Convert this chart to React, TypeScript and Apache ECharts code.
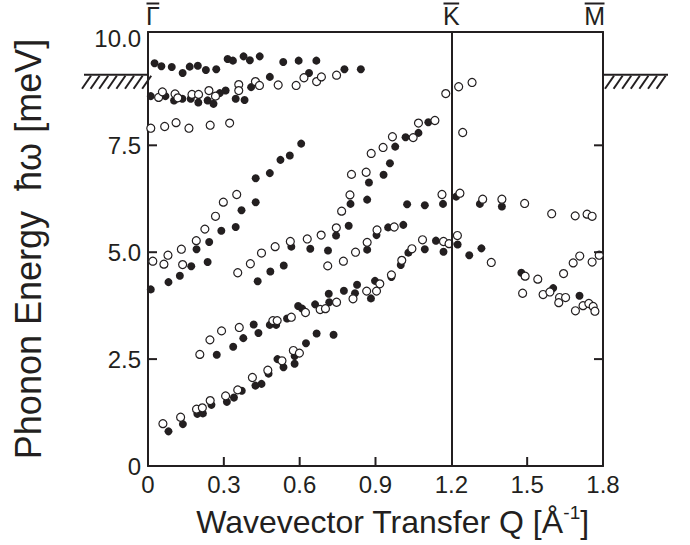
import { useEffect, useRef } from 'react';
import * as echarts from 'echarts';

// Axis ticks
const qTicks = [0, 0.3, 0.6, 0.9, 1.2, 1.5, 1.8];
const energyTicks = [0, 2.5, 5, 7.5, 10];

// High-symmetry points (top labels) and bulk band edge (hatched)
const symmetryLabels = ['Γ', 'K', 'M'];
const symmetryQ = [0, 1.2, 1.8];
const bulkEdgeEnergy = 9.15;

// Filled circles [Q (Å^-1), energy (meV)]
const filledUpper: number[][] = [
  [0.026, 9.42], [0.053, 9.35], [0.094, 9.33], [0.137, 9.19], [0.165, 9.34], [0.197, 9.36],
  [0.229, 9.26], [0.27, 9.28], [0.315, 9.52], [0.336, 9.48], [0.378, 9.58], [0.403, 9.49],
  [0.442, 9.58], [0.535, 9.45], [0.596, 9.48], [0.666, 9.48],
  [0.011, 8.65], [0.069, 8.65], [0.103, 8.55], [0.136, 8.59], [0.169, 8.59], [0.199, 8.5],
  [0.236, 8.55], [0.259, 8.47], [0.284, 8.72], [0.307, 8.78], [0.347, 8.59], [0.382, 8.56],
  [0.408, 8.86], [0.482, 9.1], [0.637, 9.19], [0.777, 9.28], [0.842, 9.28],
];
const filledMiddle: number[][] = [
  [0.606, 7.54], [0.561, 7.26], [0.524, 7.16], [0.482, 6.85], [0.426, 6.73], [0.426, 6.17],
  [0.37, 5.98], [0.347, 5.59], [0.29, 5.5], [0.242, 5.24], [0.192, 5.07], [0.171, 4.67],
  [0.236, 4.77], [0.126, 4.45], [0.081, 4.3], [0.011, 4.13],
  [0.434, 4.32], [0.484, 4.55], [0.537, 4.69], [0.567, 5.13], [0.642, 5.08], [0.712, 5.04],
  [0.744, 5.39], [0.715, 4.03],
  [0.978, 7.47], [0.957, 7.08], [0.932, 6.81], [0.874, 6.63], [0.801, 6.13], [0.867, 6.23],
  [1.019, 7.69], [1.07, 7.79], [1.109, 8.04],
  [1.025, 6.12], [1.095, 6.1], [1.167, 6.13], [1.219, 6.3], [1.313, 6.13], [1.4, 6.07],
  [0.794, 5.62], [0.904, 5.4], [0.95, 5.58], [1.01, 5.64], [0.867, 5.06], [1.03, 4.99],
  [1.095, 5.07], [1.139, 5.27], [1.169, 5.01], [1.225, 5.18], [1.271, 4.93], [1.319, 5.09],
  [1.0, 4.7], [0.963, 4.42], [0.898, 4.33], [0.827, 4.24], [0.775, 4.1], [0.819, 4.04],
  [0.882, 3.92], [1.477, 4.52], [1.603, 4.16], [1.707, 3.98],
];
const filledLower: number[][] = [
  [0.081, 0.81], [0.138, 0.98], [0.195, 1.22], [0.217, 1.23], [0.251, 1.43], [0.312, 1.5],
  [0.34, 1.6], [0.371, 1.76], [0.425, 1.88], [0.449, 1.92], [0.477, 2.16], [0.512, 2.5],
  [0.536, 2.31], [0.58, 2.39], [0.58, 2.57], [0.625, 2.87], [0.667, 3.1], [0.734, 3.07],
  [0.272, 2.6], [0.337, 2.79], [0.377, 2.99], [0.418, 3.31], [0.437, 3.11], [0.482, 3.3],
  [0.507, 3.3], [0.55, 3.45], [0.594, 3.74], [0.61, 3.68], [0.661, 3.78], [0.717, 3.83],
];

// Open circles [Q (Å^-1), energy (meV)]
const openUpper: number[][] = [
  [0.042, 8.62], [0.057, 8.75], [0.107, 8.7], [0.118, 8.61], [0.174, 8.69], [0.2, 8.69],
  [0.241, 8.78], [0.267, 8.65], [0.359, 8.92], [0.359, 8.78], [0.425, 8.99], [0.441, 8.9],
  [0.515, 8.91], [0.586, 8.9], [0.617, 9.08], [0.667, 8.99], [0.686, 9.1], [0.746, 9.14],
  [1.178, 8.71], [1.229, 8.87], [1.282, 8.97], [1.245, 7.8], [0.967, 7.7], [1.049, 7.68],
  [1.07, 8.02], [1.135, 8.08],
  [0.011, 7.9], [0.066, 7.94], [0.111, 8.03], [0.162, 7.9], [0.246, 7.97], [0.323, 8.02],
];
const openMiddle: number[][] = [
  [0.351, 6.35], [0.298, 6.17], [0.267, 5.84], [0.225, 5.54], [0.191, 5.27], [0.132, 5.07],
  [0.079, 4.93], [0.019, 4.79], [0.063, 4.72], [0.137, 4.71], [0.355, 4.52], [0.405, 4.73],
  [0.449, 4.98], [0.503, 5.13], [0.563, 5.25], [0.63, 5.31], [0.685, 5.4], [0.745, 5.57],
  [0.711, 4.68],
  [0.93, 7.45], [0.883, 7.31], [0.805, 6.82], [0.863, 6.87], [0.799, 6.34], [0.766, 5.96],
  [1.163, 6.35], [1.234, 6.38], [1.324, 6.24], [1.4, 6.24], [1.49, 6.14], [1.597, 5.9],
  [1.69, 5.85], [1.737, 5.89], [1.757, 5.84], [0.906, 5.52], [0.974, 5.59], [0.867, 5.23],
  [0.821, 5.0], [0.773, 4.79], [1.086, 5.29], [1.044, 5.08], [1.169, 5.25], [1.191, 5.2],
  [1.224, 5.39], [1.358, 4.76], [1.492, 4.44], [1.542, 4.37], [1.644, 4.5], [1.682, 4.75],
  [1.708, 4.91], [1.757, 4.77], [1.785, 4.93], [1.004, 4.81], [0.963, 4.47], [0.917, 4.26],
  [0.865, 4.09], [0.904, 4.09], [0.811, 3.91], [1.482, 4.04], [1.563, 4.01], [1.59, 4.07],
  [1.628, 3.94], [1.625, 3.82], [1.652, 3.94], [1.691, 3.63], [1.721, 3.75], [1.744, 3.8],
  [1.761, 3.73], [1.768, 3.62],
];
const openLower: number[][] = [
  [0.059, 0.99], [0.129, 1.14], [0.192, 1.33], [0.215, 1.36], [0.246, 1.53], [0.307, 1.64],
  [0.355, 1.78], [0.413, 2.07], [0.474, 2.24], [0.53, 2.46], [0.575, 2.7], [0.599, 2.64],
  [0.205, 2.61], [0.245, 2.95], [0.291, 3.16], [0.361, 3.24], [0.494, 3.4], [0.511, 3.4],
  [0.567, 3.48], [0.623, 3.59], [0.681, 3.66], [0.702, 3.68], [0.746, 3.83],
];

const INK = '#231f20';
const FONT = '"Liberation Sans", Arial, Helvetica, sans-serif';

const Q_MIN = 0;
const Q_MAX = 1.8;
const E_MIN = 0;
const E_MAX = 10.15;
const GRID = { left: 148, top: 32, width: 455, height: 434 };

export default function App() {
  const ref = useRef<HTMLDivElement>(null);

  useEffect(() => {
    if (!ref.current) return;
    const chart = echarts.init(ref.current, null, { renderer: 'svg' });

    const fmtQ = (v: number) => {
      const hit = qTicks.find((t) => Math.abs(t - v) < 1e-6);
      if (hit === undefined) return '';
      return hit === 0 ? '0' : hit.toFixed(1);
    };
    const fmtE = (v: number) => {
      const hit = energyTicks.find((t) => Math.abs(t - v) < 1e-6);
      if (hit === undefined) return '';
      return hit === 0 ? '0' : hit.toFixed(1);
    };

    // Inward frame ticks drawn as thin rectangle symbols placed on the frame
    const tickLen = 9;
    const tickW = 2;
    const bottomTicks = qTicks
      .filter((q) => q > Q_MIN && q < Q_MAX && q !== symmetryQ[1])
      .map((q) => [q, E_MIN]);
    const leftTicks = energyTicks.filter((e) => e > E_MIN && e < 10).map((e) => [Q_MIN, e]);
    const rightTicks = energyTicks.filter((e) => e > E_MIN && e < 10).map((e) => [Q_MAX, e]);

    const tickSeries = (data: number[][], size: number[], offset: number[], name: string) => ({
      type: 'scatter',
      name,
      data,
      symbol: 'rect',
      symbolSize: size,
      symbolOffset: offset,
      clip: false,
      silent: true,
      itemStyle: { color: INK, opacity: 1 },
      z: 6,
    });

    const frameLine = { show: true, onZero: false, lineStyle: { color: INK, width: 2 } };

    const yAxisBase = {
      type: 'value',
      min: E_MIN,
      max: E_MAX,
      interval: 2.5,
      splitLine: { show: false },
      splitArea: { show: false },
      axisLine: frameLine,
      axisTick: { show: false },
    };

    chart.setOption({
      animation: false,
      backgroundColor: '#ffffff',
      grid: { ...GRID, show: false },
      xAxis: [
        {
          type: 'value',
          position: 'bottom',
          min: Q_MIN,
          max: Q_MAX,
          interval: 0.3,
          splitLine: { show: false },
          splitArea: { show: false },
          axisLine: frameLine,
          axisTick: { show: false },
          axisLabel: { fontSize: 24, margin: 6, color: INK, fontFamily: FONT, formatter: fmtQ },
          name: '{t|Wavevector Transfer Q [Å}{sup|-1}{t|]}',
          nameLocation: 'middle',
          nameGap: 37,
          nameTextStyle: {
            color: INK,
            fontFamily: FONT,
            padding: [0, 0, 0, 34],
            rich: {
              t: { fontSize: 32, fontFamily: FONT, color: INK, lineHeight: 38 },
              sup: { fontSize: 19, fontFamily: FONT, color: INK, verticalAlign: 'top', lineHeight: 38 },
            },
          },
        },
        {
          type: 'value',
          position: 'top',
          min: Q_MIN,
          max: Q_MAX,
          interval: 0.3,
          splitLine: { show: false },
          splitArea: { show: false },
          axisLine: frameLine,
          axisTick: { show: false },
          axisLabel: { show: false },
        },
      ],
      yAxis: [
        {
          ...yAxisBase,
          position: 'left',
          axisLabel: { fontSize: 24, margin: 7, color: INK, fontFamily: FONT, formatter: fmtE },
          name: 'Phonon Energy  ħω [meV]',
          nameLocation: 'middle',
          nameGap: 102,
          nameTextStyle: { fontSize: 36, color: INK, fontFamily: FONT },
        },
        {
          ...yAxisBase,
          position: 'right',
          axisLabel: { show: false },
        },
      ],
      series: [
        tickSeries(bottomTicks, [tickW, tickLen], [0, -tickLen / 2], 'ticks-bottom'),
        tickSeries(leftTicks, [tickLen, tickW], [tickLen / 2, 0], 'ticks-left'),
        tickSeries(rightTicks, [tickLen, tickW], [-tickLen / 2, 0], 'ticks-right'),
        ...[filledUpper, filledMiddle, filledLower].map((d, i) => ({
          type: 'scatter',
          name: 'filled-' + i,
          data: d,
          symbol: 'circle',
          symbolSize: 8,
          itemStyle: { color: INK, opacity: 1 },
          z: 3,
          ...(i === 0
            ? {
                markLine: {
                  silent: true,
                  symbol: ['none', 'none'],
                  label: { show: false },
                  lineStyle: { color: INK, width: 2, type: 'solid' },
                  data: [{ xAxis: symmetryQ[1] }],
                },
              }
            : {}),
        })),
        ...[openUpper, openMiddle, openLower].map((d, i) => ({
          type: 'scatter',
          name: 'open-' + i,
          data: d,
          symbol: 'circle',
          symbolSize: 8,
          itemStyle: { color: '#ffffff', borderColor: INK, borderWidth: 1.2, opacity: 1 },
          z: 4,
        })),
      ],
    });

    const px = (q: number) => chart.convertToPixel({ xAxisIndex: 0 }, q) as number;
    const py = (e: number) => chart.convertToPixel({ yAxisIndex: 0 }, e) as number;

    const ctx = document.createElement('canvas').getContext('2d');
    const fs = 25;
    if (ctx) ctx.font = `${fs}px ${FONT}`;
    const measure = (s: string) => (ctx ? ctx.measureText(s).width : fs * 0.65);

    const stroke = { stroke: INK, lineWidth: 2 };
    const graphics: any[] = [];
    const xl = px(Q_MIN);
    const xr = px(Q_MAX);

    // High-symmetry point labels with overbars
    symmetryLabels.forEach((lab, i) => {
      const x = px(symmetryQ[i]);
      const w = measure(lab);
      const align = i === 0 ? 'left' : i === symmetryLabels.length - 1 ? 'right' : 'center';
      const x0 = align === 'left' ? x - 2 : align === 'right' ? x + 2 - w : x - w / 2;
      graphics.push({
        type: 'text',
        x: x0,
        y: 16,
        style: { text: lab, fontSize: fs, fontFamily: FONT, fill: INK, align: 'left', verticalAlign: 'middle' },
      });
      graphics.push({
        type: 'line',
        shape: { x1: x0 + 0.5, y1: 3.5, x2: x0 + w - 0.5, y2: 3.5 },
        style: stroke,
      });
    });

    // Bulk band edge hatching outside the frame
    const yEdge = py(bulkEdgeEnergy);
    graphics.push({ type: 'line', shape: { x1: xl - 64, y1: yEdge, x2: xl, y2: yEdge }, style: stroke });
    graphics.push({ type: 'line', shape: { x1: xr, y1: yEdge, x2: xr + 65, y2: yEdge }, style: stroke });
    for (let k = 0; k < 8; k++) {
      const bx = xl - 66 + k * 8.6;
      graphics.push({ type: 'line', shape: { x1: bx, y1: yEdge + 14, x2: bx + 9, y2: yEdge + 1 }, style: stroke });
    }
    for (let k = 0; k < 7; k++) {
      const bx = xr + 2 + k * 8.6;
      graphics.push({ type: 'line', shape: { x1: bx, y1: yEdge + 14, x2: bx + 9, y2: yEdge + 1 }, style: stroke });
    }

    chart.setOption({ graphic: { elements: graphics } });

    return () => {
      chart.dispose();
    };
  }, []);

  return (
    <div
      ref={ref}
      style={{ position: 'fixed', left: 0, top: 0, width: 690, height: 545, background: '#fff' }}
    />
  );
}
